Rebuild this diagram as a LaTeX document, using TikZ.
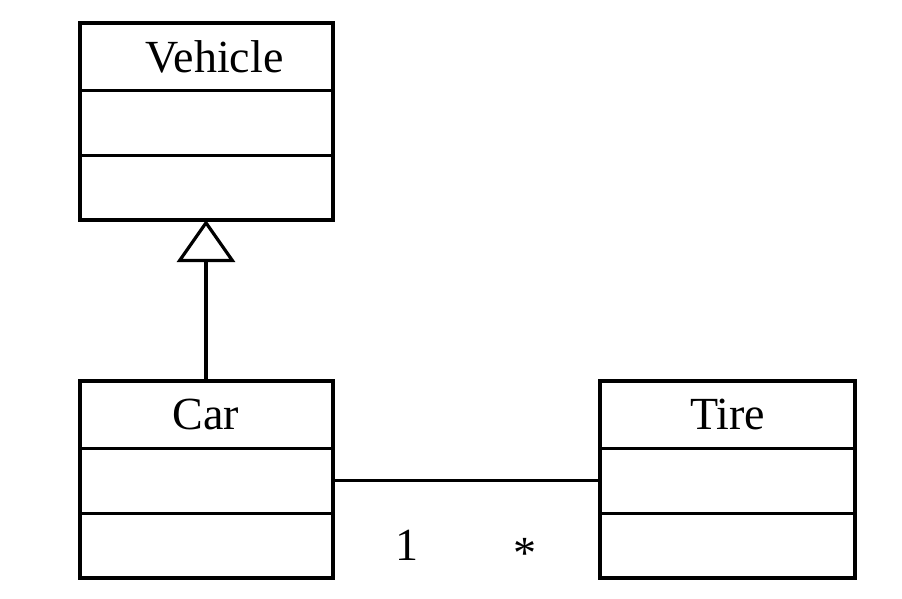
\documentclass[tikz,border=0pt]{standalone}
\usepackage{fontspec}
\setmainfont{Liberation Serif}
\usetikzlibrary{positioning,arrows.meta}

\begin{document}
\begin{tikzpicture}[x=1pt,y=-1pt,
    part/.style={draw,line width=3pt,minimum width=253pt,minimum height=65pt,
      inner sep=0pt,outer sep=0pt,font=\fontsize{46}{52}\selectfont},
    head/.style={part,minimum height=67pt},
    frame/.style={draw,line width=4pt},
    mult/.style={font=\fontsize{46}{52}\selectfont,anchor=base,inner sep=0pt}]
  \useasboundingbox (0,0) rectangle (902,598);
%   Vehicle
  \node[head] (veh) at (206,56.5) {\hspace*{17pt}Vehicle};
  \node[part,below=0pt of veh] (vehA) {};
  \node[part,below=0pt of vehA] (vehB) {};
  \draw[frame] (veh.north west) rectangle (vehB.south east);
%   Car
  \node[head] (car) at (206,414.5) {Car};
  \node[part,below=0pt of car] (carA) {};
  \node[part,below=0pt of carA] (carB) {};
  \draw[frame] (car.north west) rectangle (carB.south east);
%   Tire
  \node[head,minimum width=255pt] (tire) at (727.5,414.5) {Tire};
  \node[part,minimum width=255pt,below=0pt of tire] (tireA) {};
  \node[part,minimum width=255pt,below=0pt of tireA] (tireB) {};
  \draw[frame] (tire.north west) rectangle (tireB.south east);

  \draw[line width=3.2pt,-{Triangle[open,length=42pt,width=58pt]}] (car.north) -- (vehB.south);
  \draw[line width=3pt] (carA.east) -- node[mult,pos=.28,yshift=-79.5pt] (one) {1}
    node[mult,pos=.72,yshift=-88pt] (many) {*} (tireA.west);
\end{tikzpicture}
\end{document}
